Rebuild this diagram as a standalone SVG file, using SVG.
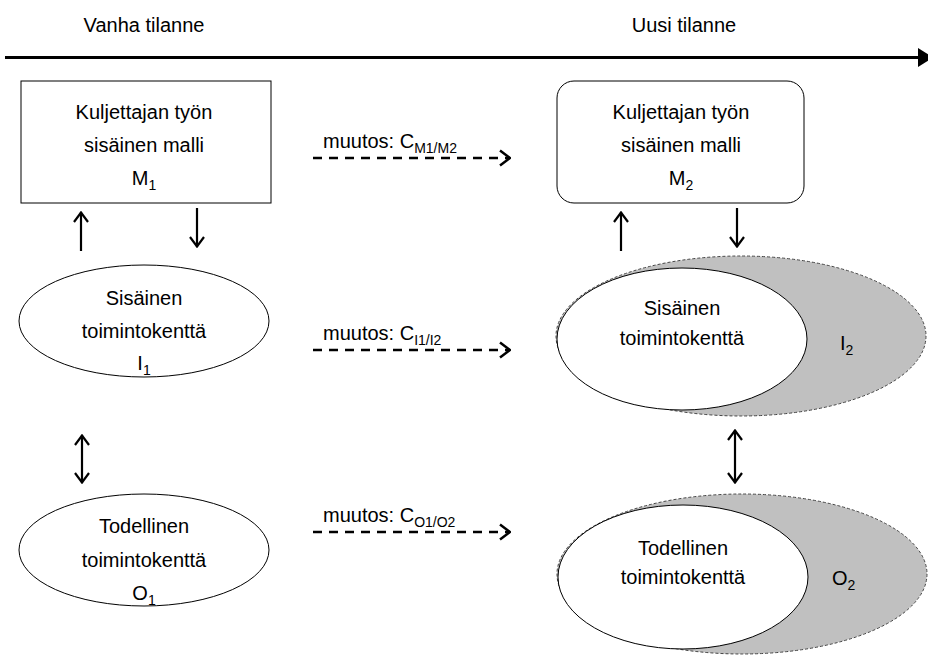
<svg xmlns="http://www.w3.org/2000/svg" width="928" height="655" viewBox="0 0 928 655">
<defs>
<style>
text{font-family:"Liberation Sans",Arial,sans-serif;font-size:20px;fill:#000;}
.c{text-anchor:middle;}
.sub{font-size:14px;}
.box{fill:#fff;stroke:#000;stroke-width:1;}
.ell{fill:#fff;stroke:#000;stroke-width:1;}
.grey{fill:#c0c0c0;stroke:#444;stroke-width:1;stroke-dasharray:3 2;}
.solid{fill:none;stroke:#000;stroke-width:2.2;}
.dash{fill:none;stroke:#000;stroke-width:2.6;stroke-dasharray:9 7;}
</style>
<marker id="chev" markerUnits="userSpaceOnUse" viewBox="0 0 12 18" refX="11" refY="9" markerWidth="12" markerHeight="18" orient="auto-start-reverse">
<path d="M1,1.5 L11,9 L1,16.5" fill="none" stroke="#000" stroke-width="2.5"/>
</marker>
<marker id="chevs" markerUnits="userSpaceOnUse" viewBox="0 0 12 18" refX="11" refY="9" markerWidth="12" markerHeight="18" orient="auto-start-reverse">
<path d="M1,2 L10.5,9 L1,16" fill="none" stroke="#000" stroke-width="2.2"/>
</marker>
</defs>
<rect width="928" height="655" fill="#fff"/>

<g id="timeline">
<text class="c" x="144" y="32">Vanha tilanne</text>
<text class="c" x="684" y="32">Uusi tilanne</text>
<line x1="5" y1="57.5" x2="921" y2="57.5" stroke="#000" stroke-width="3"/>
<polygon points="918,48 918,67 933,57.5" fill="#000"/>
</g>

<g id="M1">
<rect class="box" x="21" y="81" width="250" height="122"/>
<text class="c" x="144" y="119">Kuljettajan työn</text>
<text class="c" x="144" y="152">sisäinen malli</text>
<text class="c" x="144" y="185">M<tspan class="sub" dy="5">1</tspan></text>
</g>

<g id="M2">
<rect class="box" x="557" y="81" width="247" height="122" rx="17" ry="17"/>
<text class="c" x="681" y="119">Kuljettajan työn</text>
<text class="c" x="681" y="152">sisäinen malli</text>
<text class="c" x="681" y="185">M<tspan class="sub" dy="5">2</tspan></text>
</g>

<g id="I1">
<ellipse class="ell" cx="144" cy="321" rx="125" ry="56"/>
<text class="c" x="144" y="305">Sisäinen</text>
<text class="c" x="144" y="338">toimintokenttä</text>
<text class="c" x="144" y="370">I<tspan class="sub" dy="5">1</tspan></text>
</g>

<g id="O1">
<ellipse class="ell" cx="144" cy="550" rx="125" ry="56"/>
<text class="c" x="144" y="533">Todellinen</text>
<text class="c" x="144" y="567">toimintokenttä</text>
<text class="c" x="144" y="600">O<tspan class="sub" dy="5">1</tspan></text>
</g>

<g id="I2">
<ellipse class="grey" cx="741" cy="336" rx="185" ry="80"/>
<ellipse class="ell" cx="682" cy="339" rx="125" ry="71"/>
<text class="c" x="682" y="315">Sisäinen</text>
<text class="c" x="682" y="345">toimintokenttä</text>
<text x="840" y="350">I<tspan class="sub" dy="5">2</tspan></text>
</g>

<g id="O2">
<ellipse class="grey" cx="742" cy="574" rx="185" ry="80"/>
<ellipse class="ell" cx="683" cy="577" rx="125" ry="72"/>
<text class="c" x="683" y="555">Todellinen</text>
<text class="c" x="683" y="584">toimintokenttä</text>
<text x="832" y="585">O<tspan class="sub" dy="5">2</tspan></text>
</g>

<g id="connectors">
<line class="solid" x1="81" y1="251" x2="81" y2="212" marker-end="url(#chevs)"/>
<line class="solid" x1="197" y1="208" x2="197" y2="247" marker-end="url(#chevs)"/>
<line class="solid" x1="621" y1="251" x2="621" y2="212" marker-end="url(#chevs)"/>
<line class="solid" x1="737" y1="208" x2="737" y2="247" marker-end="url(#chevs)"/>
<line class="solid" x1="82" y1="435" x2="82" y2="483" marker-start="url(#chevs)" marker-end="url(#chevs)"/>
<line class="solid" x1="735" y1="430" x2="735" y2="483" marker-start="url(#chevs)" marker-end="url(#chevs)"/>
<line class="dash" x1="313" y1="158" x2="510" y2="158" marker-end="url(#chev)"/>
<line class="dash" x1="313" y1="350" x2="510" y2="350" marker-end="url(#chev)"/>
<line class="dash" x1="313" y1="532" x2="510" y2="532" marker-end="url(#chev)"/>
<text x="323" y="148">muutos: C<tspan class="sub" dy="5">M1/M2</tspan></text>
<text x="323" y="340">muutos: C<tspan class="sub" dy="5">I1/I2</tspan></text>
<text x="323" y="522">muutos: C<tspan class="sub" dy="5">O1/O2</tspan></text>
</g>
</svg>
